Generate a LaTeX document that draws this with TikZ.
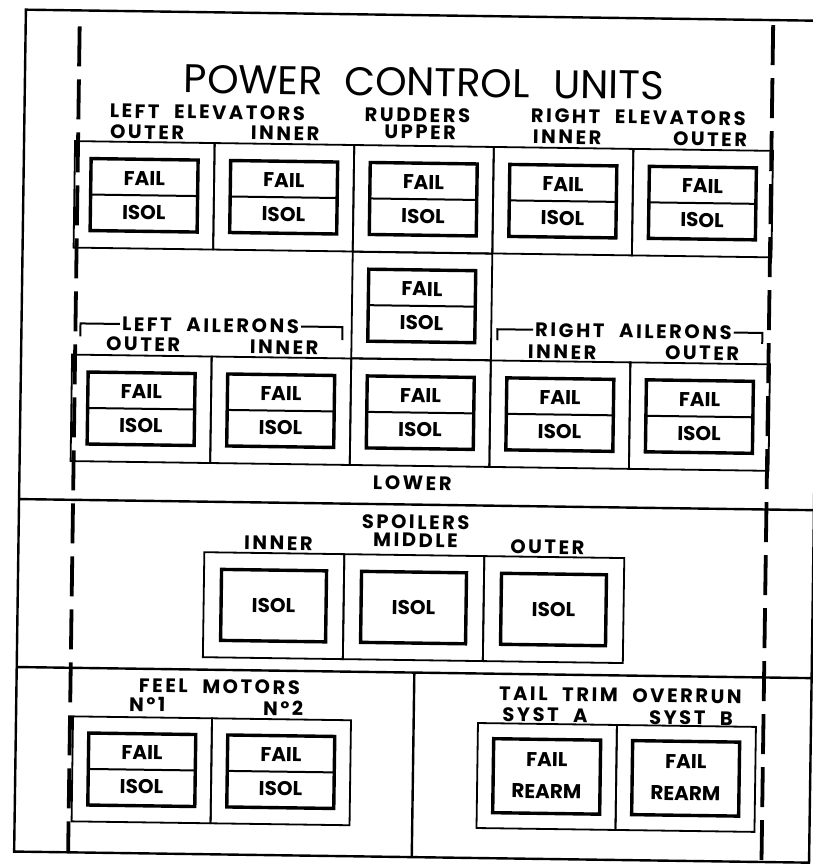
\documentclass[tikz,border=0pt]{standalone}
\usepackage{fontspec}
\setmainfont{Poppins}
\newfontfamily\lblfont[LetterSpace=13,WordSpace=2.2]{Poppins}
\usetikzlibrary{positioning}

% lamp with two captions and a split line
\newcommand\lampsplit[4]{%
  \node[lamp] (#1) at (#2) {};
  \draw[splitln] (#1.west) -- (#1.east);
  \node[lt] (#1-t) at ([yshift=17pt]#1.center) {#3};
  \node[lt] (#1-b) at ([yshift=-17pt]#1.center) {#4};}

\begin{document}
\begin{tikzpicture}[x=1pt,y=-1pt,
    cell/.style={draw,line width=1.8pt,minimum width=139.6pt,minimum height=106.5pt,inner sep=0pt,outer sep=0pt},
    lamp/.style={draw,line width=3.4pt,minimum width=107pt,minimum height=72pt,inner sep=0pt,outer sep=0pt},
    splitln/.style={line width=2pt},
    lt/.style={font=\bfseries\fontsize{20}{20}\selectfont,inner sep=0pt},
    lbl/.style={font=\lblfont\bfseries\fontsize{19.5}{19.5}\selectfont,inner sep=0pt},
    ttl/.style={font=\fontsize{40}{40}\selectfont,inner sep=0pt},
    frm/.style={line width=2.4pt},
    dsh/.style={line width=3.8pt,dash pattern=on 40pt off 13pt},
    brk/.style={line width=2pt}]
  \useasboundingbox[fill=white] (0,0) rectangle (813,868);
  \begin{scope}[rotate around={-0.8:(406,434)},transform shape]
    % frame and section lines
    \draw[frm] (20,15) rectangle (815,857);
    \coordinate (s1w) at (20,504.5); \coordinate (s1e) at (815,504.5);
    \coordinate (s2w) at (20,672.5); \coordinate (s2e) at (815,672.5);
    \coordinate (s3t) at (417.7,672.5); \coordinate (s3b) at (417.7,857);
    \draw[frm] (s1w) -- (s1e);
    \draw[frm] (s2w) -- (s2e);
    \draw[frm] (s3t) -- (s3b);
    \coordinate (dl1) at (74,31); \coordinate (dl2) at (74,857);
    \coordinate (dr1) at (767.5,20); \coordinate (dr2) at (767.5,857);
    \draw[dsh] (dl1) -- (dl2);
    \draw[dsh] (dr1) -- (dr2);

    \node[ttl] (title) at (419,82) {POWER\hspace{22pt}CONTROL\hspace{24pt}UNITS};

    % elevators and rudders
    \node[lbl] (lelev) at (203,115) {LEFT ELEVATORS};
    \node[lbl] (rudd) at (413,115) {RUDDERS};
    \node[lbl] (relev) at (634,114) {RIGHT ELEVATORS};
    \node[lbl] (leo) at (143,136) {OUTER};
    \node[lbl] (lei) at (281,135) {INNER};
    \node[lbl] (rup) at (416,132) {UPPER};
    \node[lbl] (rei) at (563,135) {INNER};
    \node[lbl] (reo) at (706,135) {OUTER};
    \node[cell] (c11) at (140.8,199) {};
    \node[cell] (c12) at (280.4,199) {};
    \node[cell] (c13) at (420,199) {};
    \node[cell] (c14) at (559.6,199) {};
    \node[cell] (c15) at (699.2,199) {};
    \node[cell] (c23) at (420,305.75) {};
    \lampsplit{l11}{c11.center}{FAIL}{ISOL}
    \lampsplit{l12}{c12.center}{FAIL}{ISOL}
    \lampsplit{l13}{c13.center}{FAIL}{ISOL}
    \lampsplit{l14}{c14.center}{FAIL}{ISOL}
    \lampsplit{l15}{c15.center}{FAIL}{ISOL}
    \lampsplit{l23}{c23.center}{FAIL}{ISOL}

    % ailerons
    \node[lbl] (lail) at (209,328) {LEFT AILERONS};
    \node[lbl] (rail) at (632,328) {RIGHT AILERONS};
    \coordinate (lb1) at (79,341); \coordinate (lb2) at (341,341);
    \coordinate (rb1) at (496,339); \coordinate (rb2) at (761,339);
    \draw[brk] (lb1) |- ([xshift=-2pt]lail.west);
    \draw[brk] (lb2) |- ([xshift=2pt]lail.east);
    \draw[brk] (rb1) |- ([xshift=-2pt]rail.west);
    \draw[brk] (rb2) |- ([xshift=2pt]rail.east);
    \node[lbl] (lao) at (142,348) {OUTER};
    \node[lbl] (lai) at (283,349) {INNER};
    \node[lbl] (rai) at (561,350) {INNER};
    \node[lbl] (rao) at (701,349) {OUTER};
    \node[cell] (c31) at (140.8,412.5) {};
    \node[cell] (c32) at (280.4,412.5) {};
    \node[cell] (c33) at (420,412.5) {};
    \node[cell] (c34) at (559.6,412.5) {};
    \node[cell] (c35) at (699.2,412.5) {};
    \lampsplit{l31}{c31.center}{FAIL}{ISOL}
    \lampsplit{l32}{c32.center}{FAIL}{ISOL}
    \lampsplit{l33}{c33.center}{FAIL}{ISOL}
    \lampsplit{l34}{c34.center}{FAIL}{ISOL}
    \lampsplit{l35}{c35.center}{FAIL}{ISOL}
    \node[lbl] (rlow) at (413,483) {LOWER};

    % spoilers
    \node[lbl] (spl) at (417,522) {SPOILERS};
    \node[lbl] (spi) at (280,545) {INNER};
    \node[lbl] (spm) at (417,540) {MIDDLE};
    \node[lbl] (spo) at (549,545) {OUTER};
    \node[cell,minimum width=140pt,minimum height=105pt] (c41) at (276,607.5) {};
    \node[cell,minimum width=140pt,minimum height=105pt] (c42) at (416,607.5) {};
    \node[cell,minimum width=140pt,minimum height=105pt] (c43) at (556,607.5) {};
    \node[lamp,minimum width=105pt,minimum height=71pt] (l41) at (c41.center) {};
    \node[lamp,minimum width=105pt,minimum height=71pt] (l42) at (c42.center) {};
    \node[lamp,minimum width=105pt,minimum height=71pt] (l43) at (c43.center) {};
    \node[lt] (l41-t) at (l41.center) {ISOL};
    \node[lt] (l42-t) at (l42.center) {ISOL};
    \node[lt] (l43-t) at (l43.center) {ISOL};

    % feel motors
    \node[lbl] (feel) at (223,689) {FEEL MOTORS};
    \node[lbl] (fm1) at (151,708) {Nº1};
    \node[lbl] (fm2) at (287,710) {Nº2};
    \node[cell,minimum width=139pt,minimum height=105pt] (c51) at (146.5,773.5) {};
    \node[cell,minimum width=139pt,minimum height=105pt] (c52) at (285.5,773.5) {};
    \lampsplit{l51}{c51.center}{FAIL}{ISOL}
    \lampsplit{l52}{c52.center}{FAIL}{ISOL}

    % tail trim overrun
    \node[lbl] (trim) at (624,692) {TAIL TRIM OVERRUN};
    \node[lbl] (sya) at (549,713) {SYST A};
    \node[lbl] (syb) at (695,714) {SYST B};
    \node[cell,minimum width=139pt,minimum height=105pt] (c61) at (551.5,774.5) {};
    \node[cell,minimum width=139pt,minimum height=105pt] (c62) at (690.5,774.5) {};
    \node[lamp,minimum height=74pt] (l61) at (c61.center) {};
    \node[lamp,minimum height=74pt] (l62) at (c62.center) {};
    \node[lt] (l61-t) at ([yshift=17pt]l61.center) {FAIL};
    \node[lt] (l61-b) at ([yshift=-15pt]l61.center) {REARM};
    \node[lt] (l62-t) at ([yshift=17pt]l62.center) {FAIL};
    \node[lt] (l62-b) at ([yshift=-15pt]l62.center) {REARM};
  \end{scope}
\end{tikzpicture}
\end{document}
